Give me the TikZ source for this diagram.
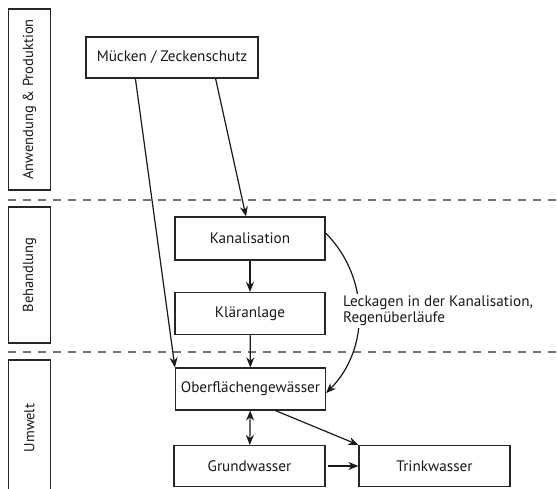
\documentclass[tikz,border=0pt]{standalone}
\usepackage{fontspec}
\setmainfont{PT Sans}
\usetikzlibrary{arrows.meta}

\tikzset{
  box/.style={draw=black!85, line width=1.2pt, fill=white, text=black!90,
    inner sep=0pt, font=\fontsize{15.2}{17}\selectfont},
  phase/.style={box, rotate=90, minimum height=42pt, font=\fontsize{14.5}{17}\selectfont},
  flow/.style={-{Stealth[length=10pt,width=8pt]}, line width=1.2pt, draw=black!90},
  twoway/.style={{Stealth[length=10pt,width=8pt]}-{Stealth[length=10pt,width=8pt]},
    line width=1.2pt, draw=black!90},
  sep/.style={draw=black!55, line width=1.2pt, dash pattern=on 8pt off 7pt},
}

\begin{document}
\begin{tikzpicture}[x=1pt,y=-1pt]
\useasboundingbox (0,0) rectangle (557,488);
% \draw [red] (0,0) grid[step=50] (557,488);

\draw[sep] (8,200) -- (557,200);
\draw[sep] (8,352) -- (557,352);

\node[phase, minimum width=181pt] (anw) at (29.5,99.5) {Anwendung \& Produktion};
\node[phase, minimum width=136pt] (beh) at (29.5,275) {Behandlung};
\node[phase, minimum width=136pt] (umw) at (29.5,428) {Umwelt};

\node[box, minimum width=172pt, minimum height=41pt] (muecken) at (172,57.5) {Mücken / Zeckenschutz};
\node[box, minimum width=150pt, minimum height=43pt] (kanal) at (250,238.5) {Kanalisation};
\node[box, minimum width=150pt, minimum height=42pt] (klaer) at (250,313.5) {Kläranlage};
\node[box, minimum width=150pt, minimum height=42pt] (ober) at (250.5,389) {Oberflächengewässer};
\node[box, minimum width=151pt, minimum height=41pt] (grund) at (249.5,466) {Grundwasser};
\node[box, minimum width=151pt, minimum height=41pt] (trink) at (434.5,466) {Trinkwasser};

\draw[flow] ([xshift=50pt]muecken.south west) -- (ober.north west);
\draw[flow] ([xshift=-43pt]muecken.south east) -- ([xshift=-4pt]kanal.north);
\draw[flow] (kanal) -- (klaer);
\draw[flow] (klaer) -- (ober);
\draw[twoway] (ober) -- (grund);
\draw[flow] ([xshift=25pt]ober.south) -- (trink.north west);
\draw[flow, shorten <=2pt] (grund) -- (trink);

\draw[flow] ([yshift=5.5pt]kanal.east) .. controls +(44,44) and +(44,-44) .. ([yshift=-4pt]ober.east);
\node[fill=white, align=left, anchor=west, inner sep=2pt, text=black!90,
  font=\fontsize{15.2}{16}\selectfont] (leck) at (341,311)
  {Leckagen in der Kanalisation,\\Regenüberläufe};

\end{tikzpicture}
\end{document}
